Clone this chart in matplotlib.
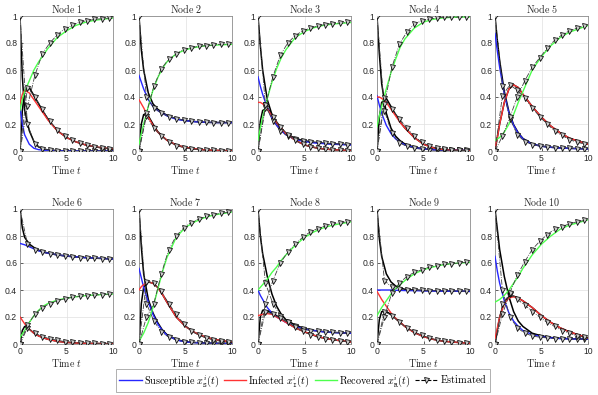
import numpy as np
import matplotlib
matplotlib.use("Agg")
import matplotlib.pyplot as plt
from matplotlib.lines import Line2D

plt.rcParams['mathtext.fontset'] = 'cm'
plt.rcParams['font.family'] = ['Liberation Sans', 'DejaVu Sans']

# time grid of the continuous curves and of the sampled estimates
T = [0, 0.25, 0.5, 1, 1.5, 2, 2.5, 3, 4, 5, 6, 7, 8, 10]
TK = [0, 0.8, 1.6, 2.4, 3.2, 4.0, 4.8, 5.6, 6.4, 7.2, 8.0, 8.8, 9.6]

node_titles = ["Node %d" % (i + 1) for i in range(10)]

S_true = [
    [0.33, 0.2, 0.12, 0.05, 0.02, 0.01, 0.006, 0.004, 0.002, 0.001, 0, 0, 0, 0],
    [0.56, 0.51, 0.46, 0.38, 0.33, 0.3, 0.28, 0.26, 0.235, 0.225, 0.217, 0.213, 0.211, 0.21],
    [0.55, 0.48, 0.42, 0.32, 0.24, 0.19, 0.15, 0.12, 0.085, 0.07, 0.06, 0.055, 0.05, 0.045],
    [0.41, 0.34, 0.28, 0.19, 0.13, 0.09, 0.065, 0.045, 0.025, 0.015, 0.01, 0.007, 0.005, 0.004],
    [0.87, 0.74, 0.62, 0.42, 0.28, 0.19, 0.13, 0.09, 0.05, 0.035, 0.027, 0.022, 0.019, 0.015],
    [0.745, 0.74, 0.735, 0.72, 0.705, 0.69, 0.68, 0.672, 0.66, 0.651, 0.645, 0.64, 0.636, 0.63],
    [0.56, 0.49, 0.42, 0.31, 0.22, 0.15, 0.1, 0.065, 0.03, 0.015, 0.01, 0.007, 0.005, 0.003],
    [0.4, 0.36, 0.33, 0.27, 0.23, 0.2, 0.18, 0.16, 0.13, 0.11, 0.1, 0.09, 0.085, 0.08],
    [0.4, 0.4, 0.4, 0.4, 0.4, 0.398, 0.397, 0.396, 0.395, 0.394, 0.393, 0.392, 0.391, 0.39],
    [0.65, 0.54, 0.45, 0.32, 0.23, 0.17, 0.13, 0.1, 0.07, 0.055, 0.045, 0.04, 0.038, 0.035],
]
I_true = [
    [0.35, 0.42, 0.45, 0.43, 0.38, 0.33, 0.28, 0.23, 0.15, 0.1, 0.068, 0.046, 0.031, 0.014],
    [0.38, 0.35, 0.32, 0.25, 0.19, 0.14, 0.11, 0.08, 0.045, 0.026, 0.015, 0.009, 0.005, 0.002],
    [0.36, 0.36, 0.35, 0.31, 0.26, 0.21, 0.17, 0.13, 0.08, 0.045, 0.027, 0.016, 0.01, 0.003],
    [0.4, 0.4, 0.39, 0.36, 0.31, 0.26, 0.21, 0.17, 0.1, 0.05, 0.025, 0.012, 0.006, 0.002],
    [0.02, 0.1, 0.2, 0.36, 0.46, 0.49, 0.47, 0.42, 0.33, 0.25, 0.185, 0.135, 0.095, 0.05],
    [0.2, 0.175, 0.15, 0.11, 0.08, 0.06, 0.046, 0.035, 0.02, 0.012, 0.008, 0.005, 0.004, 0.002],
    [0.4, 0.425, 0.44, 0.46, 0.45, 0.42, 0.37, 0.31, 0.2, 0.13, 0.085, 0.055, 0.035, 0.013],
    [0.21, 0.215, 0.22, 0.225, 0.22, 0.2, 0.18, 0.16, 0.12, 0.09, 0.065, 0.045, 0.032, 0.015],
    [0.39, 0.36, 0.33, 0.28, 0.23, 0.19, 0.16, 0.13, 0.085, 0.055, 0.035, 0.022, 0.015, 0.005],
    [0.04, 0.12, 0.2, 0.3, 0.34, 0.35, 0.34, 0.32, 0.27, 0.21, 0.16, 0.12, 0.09, 0.045],
]
R_true = [
    [0.3, 0.38, 0.44, 0.52, 0.6, 0.66, 0.71, 0.76, 0.84, 0.89, 0.93, 0.953, 0.968, 0.985],
    [0.05, 0.13, 0.2, 0.33, 0.45, 0.54, 0.61, 0.66, 0.72, 0.75, 0.767, 0.778, 0.784, 0.79],
    [0.08, 0.17, 0.25, 0.39, 0.51, 0.61, 0.69, 0.75, 0.84, 0.885, 0.913, 0.93, 0.94, 0.952],
    [0.18, 0.26, 0.33, 0.46, 0.58, 0.68, 0.77, 0.83, 0.91, 0.955, 0.975, 0.985, 0.99, 0.993],
    [0.08, 0.09, 0.1, 0.14, 0.2, 0.27, 0.36, 0.44, 0.6, 0.7, 0.78, 0.84, 0.88, 0.93],
    [0.05, 0.075, 0.1, 0.16, 0.21, 0.25, 0.28, 0.3, 0.325, 0.34, 0.35, 0.358, 0.363, 0.37],
    [0.02, 0.05, 0.08, 0.16, 0.27, 0.4, 0.53, 0.64, 0.79, 0.865, 0.905, 0.935, 0.955, 0.978],
    [0.4, 0.42, 0.44, 0.48, 0.53, 0.57, 0.62, 0.66, 0.73, 0.79, 0.83, 0.86, 0.88, 0.905],
    [0.21, 0.24, 0.27, 0.32, 0.37, 0.41, 0.44, 0.47, 0.52, 0.55, 0.57, 0.585, 0.595, 0.605],
    [0.31, 0.32, 0.33, 0.36, 0.4, 0.45, 0.5, 0.56, 0.66, 0.74, 0.8, 0.85, 0.88, 0.92],
]
S_est = [
    [1, 0.55, 0.3, 0.15, 0.07, 0.03, 0.015, 0.008, 0.003, 0.001, 0, 0, 0, 0],
    [1, 0.75, 0.6, 0.43, 0.35, 0.31, 0.285, 0.265, 0.238, 0.226, 0.218, 0.213, 0.211, 0.21],
    [1, 0.78, 0.6, 0.38, 0.27, 0.205, 0.16, 0.13, 0.093, 0.076, 0.065, 0.058, 0.053, 0.047],
    [1, 0.72, 0.5, 0.28, 0.17, 0.11, 0.075, 0.052, 0.028, 0.016, 0.01, 0.007, 0.005, 0.004],
    [1, 0.82, 0.67, 0.44, 0.29, 0.195, 0.135, 0.093, 0.052, 0.036, 0.028, 0.023, 0.02, 0.016],
    [1, 0.86, 0.79, 0.74, 0.715, 0.695, 0.683, 0.674, 0.661, 0.652, 0.645, 0.64, 0.636, 0.63],
    [1, 0.72, 0.52, 0.33, 0.23, 0.16, 0.105, 0.07, 0.033, 0.017, 0.011, 0.008, 0.006, 0.004],
    [1, 0.8, 0.67, 0.5, 0.37, 0.28, 0.22, 0.18, 0.14, 0.115, 0.1, 0.092, 0.086, 0.08],
    [1, 0.78, 0.65, 0.52, 0.46, 0.43, 0.415, 0.405, 0.4, 0.396, 0.394, 0.393, 0.392, 0.39],
    [1, 0.85, 0.7, 0.5, 0.35, 0.24, 0.17, 0.13, 0.08, 0.06, 0.048, 0.042, 0.039, 0.036],
]
I_est = [
    [0, 0.3, 0.44, 0.47, 0.41, 0.35, 0.29, 0.235, 0.152, 0.1, 0.068, 0.046, 0.031, 0.014],
    [0, 0.2, 0.27, 0.26, 0.2, 0.145, 0.11, 0.08, 0.045, 0.026, 0.015, 0.009, 0.005, 0.002],
    [0, 0.22, 0.3, 0.32, 0.27, 0.215, 0.17, 0.13, 0.08, 0.045, 0.027, 0.016, 0.01, 0.003],
    [0, 0.25, 0.36, 0.39, 0.33, 0.27, 0.215, 0.17, 0.1, 0.05, 0.025, 0.012, 0.006, 0.002],
    [0, 0.1, 0.2, 0.36, 0.46, 0.49, 0.47, 0.42, 0.33, 0.25, 0.185, 0.135, 0.095, 0.05],
    [0, 0.1, 0.13, 0.11, 0.08, 0.06, 0.046, 0.035, 0.02, 0.012, 0.008, 0.005, 0.004, 0.002],
    [0, 0.3, 0.42, 0.46, 0.45, 0.42, 0.37, 0.31, 0.2, 0.13, 0.085, 0.055, 0.035, 0.013],
    [0, 0.2, 0.25, 0.245, 0.23, 0.21, 0.185, 0.163, 0.12, 0.09, 0.065, 0.045, 0.032, 0.015],
    [0, 0.18, 0.24, 0.24, 0.22, 0.19, 0.16, 0.13, 0.085, 0.055, 0.035, 0.022, 0.015, 0.005],
    [0, 0.1, 0.2, 0.31, 0.35, 0.355, 0.34, 0.32, 0.27, 0.21, 0.16, 0.12, 0.09, 0.045],
]
S_mark = [
    [1, 0.2, 0.05, 0.015, 0.006, 0.003, 0.001, 0, 0, 0, 0, 0, 0],
    [1, 0.4, 0.32, 0.28, 0.255, 0.24, 0.228, 0.22, 0.215, 0.212, 0.211, 0.21, 0.21],
    [1, 0.34, 0.22, 0.15, 0.11, 0.09, 0.077, 0.068, 0.062, 0.057, 0.053, 0.05, 0.047],
    [1, 0.3, 0.13, 0.06, 0.035, 0.02, 0.013, 0.009, 0.007, 0.005, 0.005, 0.004, 0.004],
    [1, 0.48, 0.24, 0.12, 0.07, 0.048, 0.036, 0.029, 0.024, 0.021, 0.019, 0.017, 0.015],
    [1, 0.74, 0.7, 0.68, 0.667, 0.658, 0.65, 0.645, 0.64, 0.637, 0.634, 0.632, 0.63],
    [1, 0.3, 0.17, 0.09, 0.05, 0.03, 0.018, 0.012, 0.009, 0.007, 0.005, 0.004, 0.003],
    [1, 0.45, 0.3, 0.21, 0.16, 0.13, 0.11, 0.1, 0.095, 0.09, 0.086, 0.083, 0.08],
    [1, 0.47, 0.42, 0.405, 0.4, 0.4, 0.398, 0.396, 0.395, 0.394, 0.392, 0.391, 0.39],
    [1, 0.4, 0.2, 0.12, 0.08, 0.06, 0.05, 0.045, 0.04, 0.04, 0.037, 0.036, 0.035],
]
I_mark = [
    [0, 0.47, 0.4, 0.31, 0.22, 0.155, 0.11, 0.08, 0.058, 0.042, 0.03, 0.022, 0.016],
    [0, 0.26, 0.17, 0.11, 0.07, 0.04, 0.025, 0.015, 0.009, 0.006, 0.004, 0.003, 0.002],
    [0, 0.32, 0.25, 0.18, 0.12, 0.08, 0.05, 0.03, 0.02, 0.012, 0.008, 0.005, 0.003],
    [0, 0.39, 0.31, 0.24, 0.17, 0.11, 0.065, 0.04, 0.022, 0.012, 0.007, 0.004, 0.002],
    [0, 0.41, 0.49, 0.45, 0.39, 0.32, 0.255, 0.2, 0.15, 0.115, 0.085, 0.065, 0.052],
    [0, 0.12, 0.08, 0.055, 0.04, 0.028, 0.018, 0.012, 0.008, 0.006, 0.004, 0.003, 0.002],
    [0, 0.46, 0.45, 0.39, 0.3, 0.22, 0.15, 0.1, 0.065, 0.045, 0.03, 0.02, 0.015],
    [0, 0.24, 0.22, 0.19, 0.16, 0.125, 0.095, 0.07, 0.05, 0.04, 0.03, 0.022, 0.016],
    [0, 0.24, 0.21, 0.16, 0.12, 0.09, 0.065, 0.045, 0.03, 0.02, 0.015, 0.01, 0.006],
    [0, 0.3, 0.37, 0.33, 0.29, 0.24, 0.2, 0.16, 0.13, 0.1, 0.08, 0.06, 0.05],
]
R_mark = [
    [0, 0.33, 0.56, 0.72, 0.8, 0.86, 0.905, 0.93, 0.955, 0.965, 0.975, 0.98, 0.985],
    [0, 0.28, 0.48, 0.61, 0.68, 0.72, 0.75, 0.765, 0.775, 0.78, 0.785, 0.79, 0.79],
    [0, 0.34, 0.55, 0.71, 0.8, 0.855, 0.89, 0.91, 0.925, 0.937, 0.944, 0.948, 0.952],
    [0, 0.35, 0.62, 0.79, 0.88, 0.94, 0.965, 0.978, 0.985, 0.99, 0.99, 0.992, 0.993],
    [0, 0.11, 0.25, 0.4, 0.52, 0.62, 0.69, 0.76, 0.82, 0.86, 0.89, 0.91, 0.925],
    [0, 0.14, 0.22, 0.27, 0.3, 0.32, 0.335, 0.345, 0.352, 0.358, 0.362, 0.366, 0.37],
    [0, 0.2, 0.3, 0.52, 0.7, 0.8, 0.86, 0.9, 0.925, 0.945, 0.958, 0.968, 0.975],
    [0, 0.3, 0.47, 0.6, 0.68, 0.74, 0.79, 0.83, 0.855, 0.875, 0.89, 0.898, 0.905],
    [0, 0.2, 0.38, 0.45, 0.5, 0.53, 0.55, 0.57, 0.58, 0.59, 0.595, 0.6, 0.605],
    [0, 0.22, 0.38, 0.51, 0.61, 0.7, 0.76, 0.81, 0.85, 0.87, 0.89, 0.905, 0.915],
]

legend_labels = [r"$\mathrm{Susceptible}\ x^i_{\mathtt{S}}(t)$",
                 r"$\mathrm{Infected}\ x^i_{\mathtt{I}}(t)$",
                 r"$\mathrm{Recovered}\ x^i_{\mathtt{R}}(t)$",
                 r"$\mathrm{Estimated}$"]

BLUE = (0.15, 0.15, 1.0)
RED = (1.0, 0.2, 0.2)
GREEN = (0.3, 1.0, 0.3)
AXC = (0.15, 0.15, 0.15)

W, H = 598, 395
fig = plt.figure(figsize=(W / 100, H / 100), dpi=100)

lefts = [20, 139, 258, 377, 495]
tops = [16, 209]
aw, ah = 93, 135

mk = dict(marker='v', markersize=3.6, markerfacecolor=(0.8, 0.8, 0.8),
          markeredgecolor='black', markeredgewidth=0.55)

for k in range(10):
    r, c = divmod(k, 5)
    ax = fig.add_axes([lefts[c] / W, 1 - (tops[r] + ah) / H, aw / W, ah / H])
    ax.plot(T, S_true[k], color=BLUE, lw=1.0, zorder=3)
    ax.plot(T, I_true[k], color=RED, lw=1.0, zorder=3)
    ax.plot(T, R_true[k], color=GREEN, lw=1.0, zorder=3)
    ax.plot(T, S_est[k], color='black', lw=1.1, zorder=2)
    ax.plot(T, I_est[k], color='black', lw=1.1, zorder=2)
    for series in (S_mark[k], I_mark[k], R_mark[k]):
        ax.plot(TK, series, color=(0.25, 0.25, 0.25), lw=0.6, ls='-.', zorder=4, **mk)
    ax.set_xlim(0, 10)
    ax.set_ylim(0, 1)
    ax.set_xticks([0, 5, 10])
    ax.set_yticks([0, 0.2, 0.4, 0.6, 0.8, 1])
    ax.set_yticklabels(['0', '0.2', '0.4', '0.6', '0.8', '1'])
    ax.tick_params(labelsize=6.2, colors=AXC, direction='in', length=2, width=0.5, pad=2)
    ax.grid(True, color=(0.88, 0.88, 0.88), lw=0.5)
    ax.set_axisbelow(True)
    for s in ax.spines.values():
        s.set_color((0.55, 0.55, 0.55))
        s.set_linewidth(0.6)
    ax.set_title(r"$\mathrm{Node\ %d}$" % (k + 1), fontsize=7.2, pad=2.5, color=AXC)
    ax.set_xlabel(r"$\mathrm{Time}\ t$", fontsize=7.2, labelpad=1, color=AXC)

handles = [Line2D([], [], color=BLUE, lw=1.0),
           Line2D([], [], color=RED, lw=1.0),
           Line2D([], [], color=GREEN, lw=1.0),
           Line2D([], [], color='black', lw=0.8, ls='--', **mk)]
leg = fig.legend(handles, legend_labels, loc='center', bbox_to_anchor=(303 / W, 1 - 380.5 / H),
                 ncol=4, fontsize=7.3, frameon=True, fancybox=False, handlelength=2.2,
                 handletextpad=0.2, columnspacing=0.5, borderpad=0.3, borderaxespad=0)
leg.get_frame().set_edgecolor((0.55, 0.55, 0.55))
leg.get_frame().set_linewidth(0.6)

fig.savefig("out.png", dpi=100)
